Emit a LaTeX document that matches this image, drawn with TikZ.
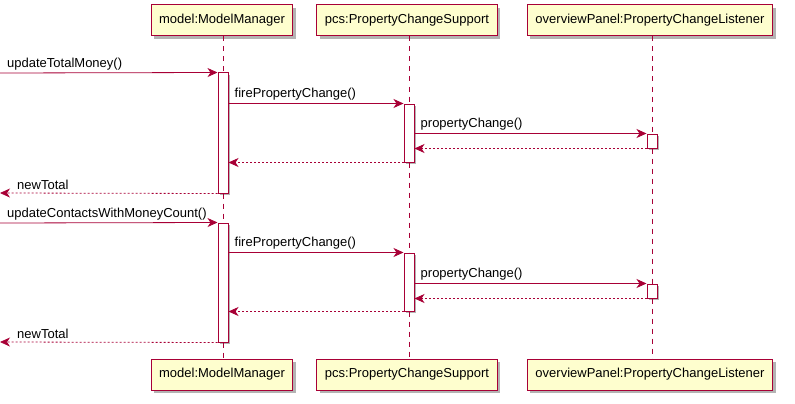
\documentclass[tikz,border=0pt]{standalone}
\usepackage{fontspec}
\setmainfont{Liberation Sans}
\usetikzlibrary{arrows.meta, shadows}

\definecolor{umlred}{HTML}{A80036}
\definecolor{umlfill}{HTML}{FEFECE}

\tikzset{
  part/.style={draw=umlred, fill=umlfill, line width=1pt, minimum height=31pt,
    inner xsep=8pt, font=\fontsize{13}{15}\selectfont,
    drop shadow={shadow xshift=3pt, shadow yshift=-3pt, fill=black!50, opacity=.6}},
  act/.style={draw=umlred, fill=white, line width=1pt, minimum width=10pt,
    inner sep=0pt, drop shadow={shadow xshift=2pt, shadow yshift=-2pt, fill=black!50, opacity=.6}},
  lifeline/.style={draw=umlred, line width=0.8pt, dash pattern=on 5pt off 5pt},
  msg/.style={draw=umlred, line width=0.8pt, -{Stealth[length=10pt, width=9pt, inset=3pt]}},
  ret/.style={msg, dash pattern=on 2pt off 2pt},
  lbl/.style={font=\fontsize{13}{15}\selectfont, inner sep=0pt, anchor=south west}
}

\begin{document}
\begin{tikzpicture}[x=1pt, y=-1pt]
        \useasboundingbox (0,0) rectangle (795,404);

        % participants
        \node[part] (mmTop) at (222,20.5) {model:ModelManager};
        \node[part] (pcsTop) at (407,20.5) {pcs:PropertyChangeSupport};
        \node[part] (lsTop) at (650,20.5) {overviewPanel:PropertyChangeListener};
        \node[part] (mmBot) at (222,374.5) {model:ModelManager};
        \node[part] (pcsBot) at (407,374.5) {pcs:PropertyChangeSupport};
        \node[part] (lsBot) at (650,374.5) {overviewPanel:PropertyChangeListener};

        % activations
        \node[act, minimum height=120pt] (mmA1) at (223,133) {};
        \node[act, minimum height=58pt] (pcsA1) at (409,133) {};
        \node[act, minimum height=14pt] (lsA1) at (652,141) {};
        \node[act, minimum height=119pt] (mmA2) at (223,282.5) {};
        \node[act, minimum height=58pt] (pcsA2) at (409,282) {};
        \node[act, minimum height=14pt] (lsA2) at (652,291) {};

        \path[lifeline] (mmTop.south -| mmA1) -- (mmA1.north);
        \path[lifeline] (mmA1.south) -- (mmA2.north);
        \path[lifeline] (mmA2.south) -- (mmBot.north -| mmA2);
        \path[lifeline] (pcsTop.south -| pcsA1) -- (pcsA1.north);
        \path[lifeline] (pcsA1.south) -- (pcsA2.north);
        \path[lifeline] (pcsA2.south) -- (pcsBot.north -| pcsA2);
        \path[lifeline] (lsTop.south -| lsA1) -- (lsA1.north);
        \path[lifeline] (lsA1.south) -- (lsA2.north);
        \path[lifeline] (lsA2.south) -- (lsBot.north -| lsA2);

        \coordinate (in1) at (0,73);
        \coordinate (out1) at (0,193);
        \coordinate (in2) at (0,223);
        \coordinate (out2) at (0,342);

        % first call
        \path[msg] (in1) -- (mmA1.north west);
        \node[lbl] at ([xshift=7pt, yshift=3pt]in1) {updateTotalMoney()};
        \path[msg] (mmA1.east |- pcsA1.north) -- (pcsA1.north west);
        \node[lbl] at ([xshift=6pt, yshift=3pt]mmA1.east |- pcsA1.north) {firePropertyChange()};
        \path[msg] (pcsA1.east |- lsA1.north) -- (lsA1.north west);
        \node[lbl] at ([xshift=6pt, yshift=3pt]pcsA1.east |- lsA1.north) {propertyChange()};
        \path[ret] (lsA1.south west) -- (pcsA1.east |- lsA1.south);
        \path[ret] (pcsA1.south west) -- (mmA1.east |- pcsA1.south);
        \path[ret] (mmA1.south west) -- (out1);
        \node[lbl] at ([xshift=17pt, yshift=3pt]out1) {newTotal};

        % second call
        \path[msg] (in2) -- (mmA2.north west);
        \node[lbl] at ([xshift=7pt, yshift=3pt]in2) {updateContactsWithMoneyCount()};
        \path[msg] (mmA2.east |- pcsA2.north) -- (pcsA2.north west);
        \node[lbl] at ([xshift=6pt, yshift=3pt]mmA2.east |- pcsA2.north) {firePropertyChange()};
        \path[msg] (pcsA2.east |- lsA2.north) -- (lsA2.north west);
        \node[lbl] at ([xshift=6pt, yshift=3pt]pcsA2.east |- lsA2.north) {propertyChange()};
        \path[ret] (lsA2.south west) -- (pcsA2.east |- lsA2.south);
        \path[ret] (pcsA2.south west) -- (mmA2.east |- pcsA2.south);
        \path[ret] (mmA2.south west) -- (out2);
        \node[lbl] at ([xshift=17pt, yshift=3pt]out2) {newTotal};
      \end{tikzpicture}
\end{document}
